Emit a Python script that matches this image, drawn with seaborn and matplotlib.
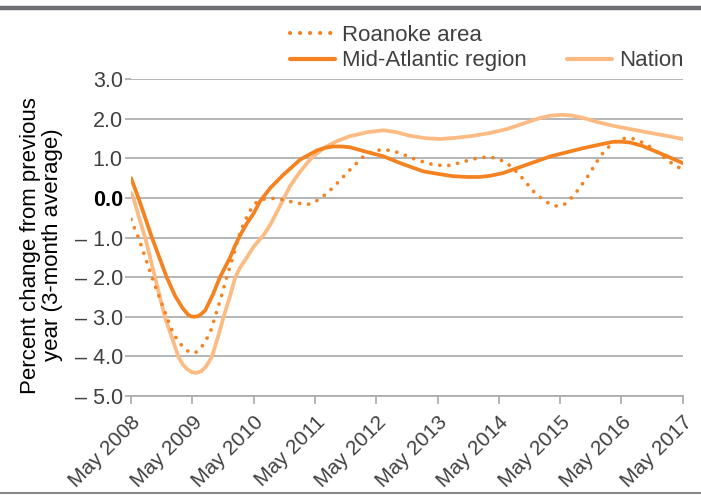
import matplotlib
matplotlib.use("Agg")
import matplotlib.pyplot as plt
from matplotlib.lines import Line2D
import seaborn as sns
import pandas as pd

# ---- data (years since May 2008, percent change) ----
tick_labels = ["May 2008", "May 2009", "May 2010", "May 2011", "May 2012",
               "May 2013", "May 2014", "May 2015", "May 2016", "May 2017"]
y_ticks = [3.0, 2.0, 1.0, 0.0, -1.0, -2.0, -3.0, -4.0, -5.0]
y_tick_labels = ["3.0", "2.0", "1.0", "0.0", "– 1.0", "– 2.0", "– 3.0", "– 4.0", "– 5.0"]

mid_t = [0.0, 0.12, 0.34, 0.58, 0.72, 0.84, 0.93, 0.98, 1.03, 1.08, 1.13, 1.21, 1.34,
         1.45, 1.62, 1.70, 1.78, 1.89, 2.0, 2.1, 2.27, 2.48, 2.76, 3.03, 3.17, 3.30, 3.44,
         3.57, 3.85, 4.12, 4.39, 4.77, 5.04, 5.25, 5.48, 5.68, 5.86, 6.07, 6.29, 6.84,
         7.38, 7.65, 7.87, 8.0, 8.14, 8.33, 8.52, 8.75, 9.0]
mid_v = [0.5, 0.0, -1.0, -2.0, -2.48, -2.78, -2.95, -2.99, -3.0, -2.99, -2.95, -2.84, -2.42,
         -2.0, -1.49, -1.19, -0.94, -0.64, -0.39, -0.09, 0.25, 0.58, 0.97, 1.2, 1.27, 1.30, 1.30,
         1.28, 1.16, 1.05, 0.88, 0.67, 0.60, 0.55, 0.53, 0.53, 0.56, 0.63, 0.75, 1.05,
         1.26, 1.35, 1.42, 1.42, 1.40, 1.32, 1.20, 1.05, 0.88]

roa_t = [0.0, 0.06, 0.12, 0.23, 0.34, 0.46, 0.58, 0.69, 0.79, 0.88, 0.95, 1.01, 1.07, 1.13,
         1.22, 1.30, 1.37, 1.47, 1.56, 1.66, 1.75, 1.85, 1.95, 2.05, 2.16, 2.3, 2.43, 2.57,
         2.70, 2.89, 3.02, 3.14, 3.25, 3.36, 3.57, 3.79, 3.95, 4.09, 4.24, 4.39, 4.66,
         4.93, 5.15, 5.37, 5.55, 5.69, 5.85, 5.97, 6.13, 6.25, 6.35, 6.45, 6.54, 6.67,
         6.8, 6.92, 7.0, 7.08, 7.17, 7.27, 7.35, 7.43, 7.52, 7.6, 7.7, 7.81, 7.93, 8.06,
         8.18, 8.3, 8.41, 8.52, 8.63, 8.74, 8.87, 9.0]
roa_v = [-0.54, -0.78, -1.0, -1.5, -2.0, -2.5, -3.0, -3.43, -3.66, -3.82, -3.89, -3.92, -3.89,
         -3.81, -3.60, -3.35, -3.0, -2.5, -2.0, -1.5, -1.0, -0.6, -0.3, -0.1, -0.03, -0.01,
         -0.03, -0.08, -0.13, -0.16, -0.08, 0.05, 0.2, 0.37, 0.71, 1.05, 1.18, 1.22, 1.2,
         1.13, 0.96, 0.84, 0.81, 0.89, 0.97, 1.02, 1.03, 1.0, 0.88, 0.72, 0.56, 0.38, 0.2,
         0.02, -0.12, -0.2, -0.21, -0.15, -0.02, 0.16, 0.33, 0.5, 0.72, 0.92, 1.14, 1.32,
         1.45, 1.51, 1.5, 1.43, 1.35, 1.24, 1.1, 0.96, 0.83, 0.71]

nat_t = [0.0, 0.04, 0.13, 0.23, 0.31, 0.39, 0.47, 0.55, 0.66, 0.77, 0.84, 0.92, 0.99,
         1.06, 1.14, 1.21, 1.27, 1.32, 1.42, 1.51, 1.61, 1.70, 1.78, 1.86, 2.0, 2.16,
         2.27, 2.43, 2.59, 2.75, 2.92, 3.05, 3.19, 3.38, 3.57, 3.85, 4.12, 4.33, 4.55,
         4.8, 5.04, 5.3, 5.58, 5.85, 6.13, 6.4, 6.67, 6.85, 7.03, 7.2, 7.38, 7.6, 7.87,
         8.14, 8.41, 8.7, 9.0]
nat_v = [0.13, 0.0, -0.5, -1.0, -1.5, -2.0, -2.5, -3.0, -3.5, -4.0, -4.2, -4.33, -4.40,
         -4.42, -4.38, -4.28, -4.14, -4.0, -3.5, -3.0, -2.5, -2.0, -1.75, -1.57, -1.23, -0.94,
         -0.68, -0.2, 0.29, 0.65, 0.97, 1.15, 1.30, 1.45, 1.56, 1.66, 1.71, 1.66, 1.57,
         1.51, 1.49, 1.52, 1.57, 1.64, 1.74, 1.88, 2.02, 2.08, 2.1, 2.08, 2.02, 1.92, 1.82,
         1.74, 1.66, 1.58, 1.49]

ORANGE = "#f58220"
PEACH = "#fdbb84"
GRID = "#a7a9ac"
TXT = "#404040"
DOTS = (0, (0.01, 2.4))

sns.set_theme(style="white")
plt.rcParams["font.family"] = ["Liberation Sans", "DejaVu Sans"]

fig = plt.figure(figsize=(7.01, 4.98), dpi=100)
ax = fig.add_axes([0.187, 0.205, 0.787, 0.636])

nat = pd.DataFrame({"t": nat_t, "v": nat_v})
mid = pd.DataFrame({"t": mid_t, "v": mid_v})
roa = pd.DataFrame({"t": roa_t, "v": roa_v})

sns.lineplot(data=nat, x="t", y="v", ax=ax, color=PEACH, lw=2.7, zorder=3)
sns.lineplot(data=mid, x="t", y="v", ax=ax, color=ORANGE, lw=2.7, zorder=4)
sns.lineplot(data=roa, x="t", y="v", ax=ax, color=ORANGE, lw=2.7, zorder=5,
             linestyle=DOTS, dash_capstyle="round")

ax.set_xlim(0, 9)
ax.set_ylim(-5, 3)
ax.set_yticks(y_ticks)
ax.set_yticklabels(y_tick_labels)
ax.set_xticks(range(len(tick_labels)))
ax.set_xticklabels(tick_labels, rotation=45, ha="right", va="top",
                   rotation_mode="anchor")

ax.grid(axis="y", color=GRID, lw=1.2, zorder=1)
ax.grid(axis="x", visible=False)
for s in ["top", "right", "left"]:
    ax.spines[s].set_visible(False)
ax.spines["bottom"].set_color(GRID)
ax.spines["bottom"].set_linewidth(1.2)
ax.tick_params(axis="y", length=4, width=1.2, color=GRID, pad=2,
               labelsize=15.5, labelcolor=TXT, left=True)
ax.tick_params(axis="x", length=6, width=1.2, color=GRID, pad=6,
               labelsize=15, labelcolor=TXT, bottom=True)
for lab in ax.get_yticklabels():
    if lab.get_text() == "0.0":
        lab.set_color("black")
        lab.set_fontweight("bold")

ax.set_xlabel("")
ax.set_ylabel("Percent change from previous\nyear (3-month average)",
              fontsize=16, color="black", linespacing=1.05)
ax.yaxis.set_label_coords(-0.123, 0.476)

handles = [
    Line2D([], [], color=ORANGE, lw=3.0, linestyle=DOTS, dash_capstyle="round"),
    Line2D([], [], color=ORANGE, lw=3.0),
    Line2D([], [], color="none"),
    Line2D([], [], color=PEACH, lw=3.0),
]
labels = ["Roanoke area", "Mid-Atlantic region", "", "Nation"]
fig.legend(handles, labels, ncol=2, loc="upper left", bbox_to_anchor=(0.414, 0.95),
           frameon=False, fontsize=16, handlelength=2.0, handletextpad=0.35,
           columnspacing=1.8, labelspacing=0.2, borderpad=0,
           borderaxespad=0, labelcolor=TXT)

fig.add_artist(Line2D([0, 1], [0.984, 0.984], transform=fig.transFigure,
                      color="#6d6e71", lw=3.2))
fig.add_artist(Line2D([0, 1], [0.010, 0.010], transform=fig.transFigure,
                      color="#8a8a8a", lw=1.5))

fig.savefig("out.png", dpi=100)
